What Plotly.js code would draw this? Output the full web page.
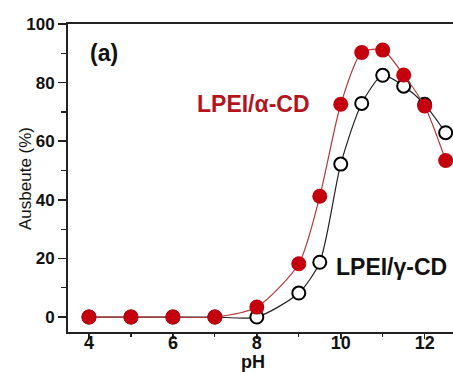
<!DOCTYPE html>
<html>
<head>
<meta charset="utf-8">
<script src="https://cdn.plot.ly/plotly-3.0.1.min.js"></script>
<style>html,body{margin:0;padding:0;background:#fff;}#chart{width:453px;height:372px;}</style>
</head>
<body>
<div id="chart"></div>
<script>
var pH = [4, 5, 6, 7, 8, 9, 9.5, 10, 10.5, 11, 11.5, 12, 12.5];
var alphaCD = [0, 0, 0, 0, 3.4, 18.2, 41.2, 72.6, 90.3, 91.1, 82.6, 72.0, 53.4];
var gammaCD = [0, 0, 0, 0, 0, 8.2, 18.7, 52.2, 72.9, 82.5, 78.8, 72.6, 62.9];
var xTicks = [4, 6, 8, 10, 12];
var yTicks = [0, 20, 40, 60, 80, 100];

var red = '#c4000f';
var redLine = '#b4383a';
var fontFam = '"Liberation Sans", Arial, sans-serif';

var traces = [
  {x: pH, y: gammaCD, mode: 'lines+markers', type: 'scatter',
   line: {shape: 'spline', smoothing: 0.7, color: '#222', width: 1.2},
   marker: {symbol: 'circle', size: 13, color: '#fff', line: {color: '#000', width: 2}},
   showlegend: false, hoverinfo: 'skip'},
  {x: pH, y: alphaCD, mode: 'lines+markers', type: 'scatter',
   line: {shape: 'spline', smoothing: 0.7, color: redLine, width: 1.2},
   marker: {symbol: 'circle', size: 15, color: red, line: {color: red, width: 0}},
   showlegend: false, hoverinfo: 'skip'}
];

var layout = {
  width: 453, height: 372,
  margin: {l: 68, r: 0, t: 24, b: 40, pad: 0},
  paper_bgcolor: '#fff', plot_bgcolor: '#fff',
  font: {family: fontFam, color: '#111'},
  xaxis: {
    range: [3.5, 12.675], tickvals: xTicks, ticktext: xTicks.map(String),
    showgrid: false, zeroline: false, showline: true, linecolor: '#222', linewidth: 2,
    mirror: true, ticks: 'outside', ticklen: 5, tickwidth: 1.5, tickcolor: '#222',
    minor: {dtick: 1, tick0: 0, ticks: 'outside', ticklen: 3, tickwidth: 1.2, tickcolor: '#222', showgrid: false},
    tickfont: {size: 18, family: fontFam, weight: 'bold', color: '#111'},
    ticklabelstandoff: -12
  },
  yaxis: {
    range: [-5.1, 100], tickvals: yTicks, ticktext: yTicks.map(String),
    showgrid: false, zeroline: false, showline: true, linecolor: '#222', linewidth: 2,
    ticks: 'outside', ticklen: 8, tickwidth: 1.5, tickcolor: '#222',
    minor: {dtick: 10, tick0: 0, ticks: 'outside', ticklen: 5, tickwidth: 1.2, tickcolor: '#222', showgrid: false},
    tickfont: {size: 17, family: fontFam, weight: 'bold', color: '#111'}
  },
  annotations: [
    {x: 4.35, y: 90.1, xref: 'x', yref: 'y', text: '<b>(a)</b>', showarrow: false,
     font: {size: 23, family: fontFam, color: '#111'}},
    {x: 7.91, y: 72.7, xref: 'x', yref: 'y', text: '<b>LPEI/α-CD</b>', showarrow: false,
     font: {size: 23, family: fontFam, color: '#b5141c'}},
    {x: 11.21, y: 17, xref: 'x', yref: 'y', text: '<b>LPEI/γ-CD</b>', showarrow: false,
     font: {size: 23, family: fontFam, color: '#111'}},
    {x: -0.1117, y: 0.5, xref: 'paper', yref: 'paper', text: 'Ausbeute (%)', textangle: -90,
     showarrow: false, xanchor: 'center', yanchor: 'middle',
     font: {size: 17, family: fontFam, color: '#111'}},
    {x: 0.48, y: -0.097, xref: 'paper', yref: 'paper', text: '<b>pH</b>',
     showarrow: false, xanchor: 'center', yanchor: 'middle',
     font: {size: 18, family: fontFam, color: '#111'}}
  ]
};

Plotly.newPlot('chart', traces, layout, {staticPlot: true, displayModeBar: false});
</script>
</body>
</html>
